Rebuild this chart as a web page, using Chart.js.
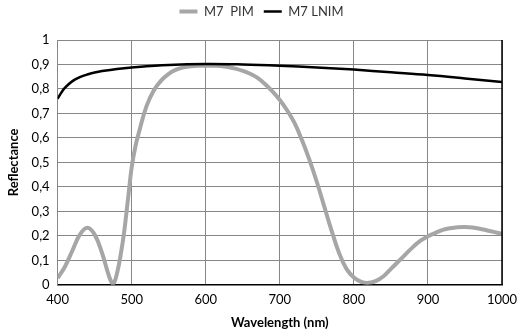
<!DOCTYPE html>
<html>
<head>
<meta charset="utf-8">
<script src="https://cdn.jsdelivr.net/npm/chart.js@4/dist/chart.umd.min.js"></script>
<style>
  html, body { margin: 0; padding: 0; background: #fff; }
  #wrap { width: 517px; height: 331px; }
</style>
</head>
<body>
<div id="wrap"><canvas id="reflChart" width="517" height="331"></canvas></div>
<script>
"use strict";
// wavelengths (nm) and reflectance
var pimWavelengths = [400, 410, 420, 430, 440, 450, 460, 470, 475, 480, 485, 490, 495, 500, 505, 510, 520, 530, 540, 550, 560, 570, 580, 590, 600, 610, 620, 630, 640, 650, 660, 670, 680, 690, 700, 710, 720, 730, 740, 750, 760, 770, 780, 790, 800, 810, 820, 830, 840, 850, 860, 870, 880, 890, 900, 910, 920, 930, 940, 950, 960, 970, 980, 990, 1000];
var pimReflectance = [0.027, 0.075, 0.14, 0.205, 0.233, 0.205, 0.13, 0.03, 0.005, 0.045, 0.12, 0.22, 0.35, 0.48, 0.565, 0.625, 0.73, 0.795, 0.835, 0.862, 0.879, 0.888, 0.893, 0.895, 0.895, 0.895, 0.894, 0.89, 0.883, 0.874, 0.862, 0.845, 0.82, 0.79, 0.755, 0.712, 0.66, 0.59, 0.51, 0.42, 0.32, 0.22, 0.13, 0.065, 0.03, 0.012, 0.008, 0.016, 0.035, 0.065, 0.095, 0.125, 0.155, 0.18, 0.198, 0.212, 0.224, 0.231, 0.235, 0.236, 0.234, 0.229, 0.222, 0.215, 0.208];
var lnimWavelengths = [400, 405, 410, 420, 430, 440, 450, 460, 480, 500, 550, 600, 650, 700, 750, 800, 850, 900, 950, 1000];
var lnimReflectance = [0.76, 0.785, 0.805, 0.832, 0.848, 0.859, 0.867, 0.873, 0.882, 0.888, 0.898, 0.902, 0.9, 0.895, 0.888, 0.879, 0.868, 0.857, 0.843, 0.828];
var seriesNames = ["M7  PIM", "M7 LNIM"];

var pimColor = "#a6a6a6";
var lnimColor = "#000000";
var gridColor = "#878787";
var fontFamily = "Lato, 'Open Sans', sans-serif";

function toPoints(xs, ys) {
  return xs.map(function (x, i) { return { x: x, y: ys[i] }; });
}
function commaTick(value) {
  return (Math.round(value * 10) / 10).toString().replace(".", ",");
}
function plainTick(value) {
  return String(value);
}

Chart.defaults.font.family = fontFamily;
Chart.defaults.color = "#000";

new Chart(document.getElementById("reflChart"), {
  type: "line",
  data: {
    datasets: [{
      label: seriesNames[0],
      data: toPoints(pimWavelengths, pimReflectance),
      borderColor: pimColor,
      backgroundColor: pimColor,
      borderWidth: 4,
      pointRadius: 0,
      tension: 0.4,
      order: 2
    }, {
      label: seriesNames[1],
      data: toPoints(lnimWavelengths, lnimReflectance),
      borderColor: lnimColor,
      backgroundColor: lnimColor,
      borderWidth: 2.5,
      pointRadius: 0,
      tension: 0.4,
      order: 1
    }]
  },
  options: {
    responsive: false,
    animation: false,
    layout: { padding: { left: 6, right: 0, top: -5, bottom: 0 } },
    plugins: {
      legend: {
        position: "top",
        labels: {
          usePointStyle: true,
          pointStyle: "line",
          pointStyleWidth: 18,
          boxHeight: 4,
          color: "#333",
          font: { size: 13 },
          padding: 10,
          sort: function (a, b) { return a.datasetIndex - b.datasetIndex; }
        }
      },
      tooltip: { enabled: false }
    },
    scales: {
      x: {
        type: "linear",
        min: 400,
        max: 1000,
        afterFit: function (scale) { scale.paddingRight = 15; },
        ticks: { stepSize: 100, color: "#000", font: { size: 13 }, padding: 7, callback: plainTick },
        grid: { color: gridColor, lineWidth: 1, drawTicks: false },
        border: { color: "#000", width: 1.5 },
        title: { display: true, text: "Wavelength (nm)", font: { size: 13, weight: "bold" }, padding: { top: 1, bottom: 0 } }
      },
      y: {
        min: 0,
        max: 1,
        ticks: { stepSize: 0.1, color: "#000", font: { size: 13 }, padding: 8, callback: commaTick },
        grid: { color: gridColor, lineWidth: 1, drawTicks: false },
        border: { color: gridColor, width: 1 },
        title: { display: true, text: "Reflectance", font: { size: 13, weight: "bold" }, padding: { top: 0, bottom: 2 } }
      }
    }
  },
  plugins: [{
    // extra space under the legend, like the original
    id: "legendGap",
    beforeLayout: function (chart) {
      var legend = chart.legend;
      if (!legend || legend._gapAdded) return;
      var fit = legend.fit;
      legend.fit = function () {
        fit.call(this);
        this.height += 12;
      };
      legend._gapAdded = true;
    }
  }, {
    id: "rightBorder",
    afterDatasetsDraw: function (chart) {
      var area = chart.chartArea;
      var ctx = chart.ctx;
      ctx.save();
      ctx.strokeStyle = "#000";
      ctx.lineWidth = 1.5;
      ctx.beginPath();
      ctx.moveTo(area.right, area.top);
      ctx.lineTo(area.right, area.bottom);
      ctx.stroke();
      ctx.restore();
    }
  }]
});
</script>
</body>
</html>
